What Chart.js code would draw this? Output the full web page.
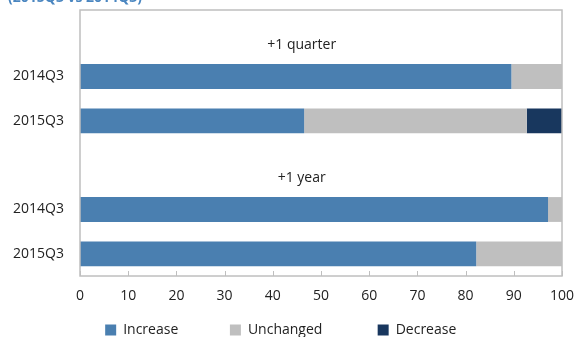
<!DOCTYPE html>
<html>
<head>
<meta charset="utf-8">
<script src="https://cdn.jsdelivr.net/npm/chart.js@4.4.1/dist/chart.umd.min.js"></script>
<style>
  html, body { margin: 0; padding: 0; background: #fff; }
  #wrap { width: 576px; height: 337px; }
</style>
</head>
<body>
<div id="wrap"><canvas id="expChart"></canvas></div>
<script>
// rows: a blank row carries each group heading
const categories = ['', '2014Q3', '2015Q3', '', '2014Q3', '2015Q3'];
const groupHeadings = ['+1 quarter', '', '', '+1 year', '', ''];
const increase  = [null, 89.5, 46.5, null, 97.1, 82.2];
const unchanged = [null, 10.5, 46.2, null, 2.9, 17.8];
const decrease  = [null, 0, 7.3, null, 0, 0];
const xTicks = [0, 10, 20, 30, 40, 50, 60, 70, 80, 90, 100];

const FONT = 'Open Sans, Noto Sans, sans-serif';

// frame, inward ticks, group headings and the clipped subtitle
const extras = {
    id: 'extras',
    afterDraw(chart) {
        const { ctx, chartArea: a } = chart;
        const x = chart.scales.x, y = chart.scales.y;
        ctx.save();
        ctx.strokeStyle = '#bfbfbf';
        ctx.lineWidth = 1.5;
        ctx.strokeRect(a.left, a.top, a.right - a.left, a.bottom - a.top);
        ctx.lineWidth = 1;
        ctx.beginPath();
        xTicks.forEach(v => {
            const px = Math.round(x.getPixelForValue(v)) + 0.5;
            ctx.moveTo(px, a.bottom);
            ctx.lineTo(px, a.bottom - 5);
        });
        ctx.stroke();

        ctx.fillStyle = '#222';
        ctx.font = '14px ' + FONT;
        ctx.textAlign = 'center';
        ctx.textBaseline = 'middle';
        groupHeadings.forEach((t, i) => {
            if (!t) return;
            ctx.fillText(t, a.left + (a.right - a.left) * 0.46, y.getPixelForValue(i) + 13);
        });

        ctx.fillStyle = '#4a86c0';
        ctx.font = 'bold 14px ' + FONT;
        ctx.textAlign = 'left';
        ctx.textBaseline = 'bottom';
        ctx.fillText('(2015Q3 vs 2014Q3)', 8, 5);
        ctx.restore();
    }
};

// widen legend entries with trailing spaces so they spread out like the original
const legendGap = [12, 13, 4];

new Chart(document.getElementById('expChart'), {
    type: 'bar',
    data: {
        labels: categories,
        datasets: [
            { label: 'Increase', data: increase, backgroundColor: '#4a7fb0' },
            { label: 'Unchanged', data: unchanged, backgroundColor: '#bfbfbf' },
            { label: 'Decrease', data: decrease, backgroundColor: '#18375e' }
        ]
    },
    options: {
        indexAxis: 'y',
        responsive: true,
        maintainAspectRatio: false,
        animation: false,
        categoryPercentage: 0.56,
        barPercentage: 1,
        layout: { padding: { top: 10, right: 0, left: 0, bottom: -10 } },
        plugins: {
            legend: {
                position: 'bottom',
                labels: {
                    boxWidth: 11,
                    boxHeight: 11,
                    padding: 8,
                    color: '#222',
                    font: { family: FONT, size: 14 },
                    generateLabels: chart => {
                        const items = Chart.defaults.plugins.legend.labels.generateLabels(chart);
                        items.forEach((it, i) => { it.text = it.text + '\u00a0'.repeat(legendGap[i]); });
                        return items;
                    }
                }
            },
            tooltip: { enabled: false }
        },
        scales: {
            x: {
                stacked: true,
                min: 0,
                max: 100,
                afterBuildTicks: s => { s.ticks = xTicks.map(v => ({ value: v })); },
                afterFit: s => { s.height = 39; s.paddingRight = 14; },
                grid: { display: false, drawTicks: false },
                border: { display: false },
                ticks: { padding: 12, color: '#222', font: { family: FONT, size: 14 } }
            },
            y: {
                stacked: true,
                grid: { display: false, drawTicks: false },
                border: { display: false },
                afterFit: s => { s.width = 80; s.paddingTop = 0; s.paddingBottom = 0; },
                ticks: { padding: 16, color: '#222', font: { family: FONT, size: 14 } }
            }
        }
    },
    plugins: [extras]
});
</script>
</body>
</html>
